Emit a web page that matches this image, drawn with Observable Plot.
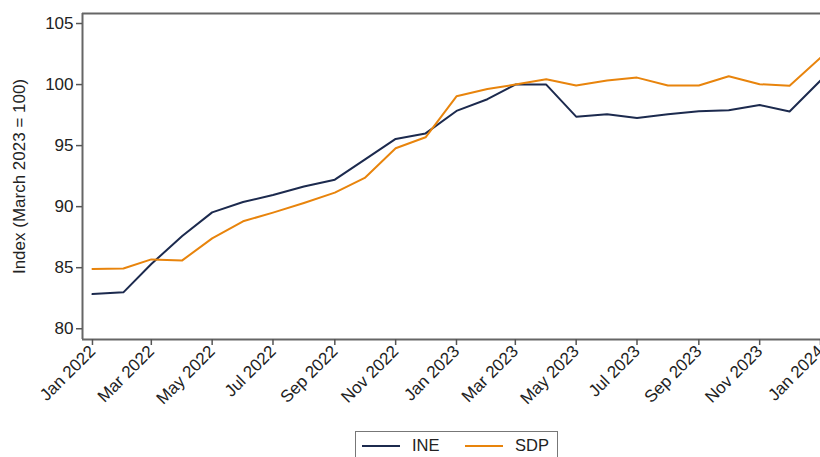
<!DOCTYPE html>
<html>
<head>
<meta charset="utf-8">
<script src="https://cdn.jsdelivr.net/npm/d3@7"></script>
<script src="https://cdn.jsdelivr.net/npm/@observablehq/plot@0.6"></script>
<style>
  body { margin: 0; background: #fff; font-family: "Liberation Sans", Arial, sans-serif; }
  #wrap { position: relative; width: 820px; height: 457px; overflow: hidden; }
  #legend { position: absolute; left: 355px; top: 431px; width: 203px; height: 40px;
    border: 1.5px solid #777; box-sizing: border-box; font-size: 16.5px; color: #222; }
  .item { position: absolute; top: 4px; display: flex; align-items: center; }
  .sw { width: 38px; height: 0; border-top: 2px solid; margin-right: 12px; }
  svg text { font-size: 17px; fill: #222; }
</style>
</head>
<body>
<div id="wrap"><div id="chart"></div>
<div id="legend">
  <div class="item" style="left:6px"><span class="sw" id="sw1"></span><span id="l1"></span></div>
  <div class="item" style="left:109px"><span class="sw" id="sw2"></span><span id="l2"></span></div>
</div>
</div>
<script>
const months = ["2022-01","2022-02","2022-03","2022-04","2022-05","2022-06","2022-07","2022-08","2022-09","2022-10","2022-11","2022-12",
  "2023-01","2023-02","2023-03","2023-04","2023-05","2023-06","2023-07","2023-08","2023-09","2023-10","2023-11","2023-12","2024-01"];
const ine = [82.84, 82.98, 85.3, 87.6, 89.53, 90.38, 90.96, 91.65, 92.21, 93.85, 95.55, 96.0,
  97.84, 98.8, 100.0, 100.0, 97.37, 97.57, 97.27, 97.57, 97.81, 97.89, 98.33, 97.79, 100.33];
const sdp = [84.89, 84.94, 85.68, 85.6, 87.4, 88.8, 89.51, 90.3, 91.15, 92.35, 94.78, 95.68,
  99.04, 99.64, 100.0, 100.44, 99.92, 100.33, 100.57, 99.92, 99.92, 100.68, 100.03, 99.9, 102.19];
const seriesNames = ["INE", "SDP"];
const colors = ["#1c2a4e", "#e8840c"];
const yTicks = [80, 85, 90, 95, 100, 105];
const yLabel = "Index (March 2023 = 100)";

const parse = d3.utcParse("%Y-%m");
const dates = months.map(parse);
const data = [];
seriesNames.forEach((s, i) => {
  const vals = i === 0 ? ine : sdp;
  dates.forEach((d, j) => data.push({date: d, value: vals[j], series: s}));
});
const xStart = new Date(Date.UTC(2021, 11, 22));
const xEnd = dates[dates.length - 1];
const xTicks = d3.utcMonth.every(2).range(dates[0], new Date(xEnd.getTime() + 1));
const yDomain = [79.12, 105.82];

const chart = Plot.plot({
  width: 820,
  height: 425,
  marginLeft: 82,
  marginRight: 0,
  marginTop: 13,
  marginBottom: 86,
  style: {fontFamily: "Liberation Sans, Arial, sans-serif", fontSize: "17px", color: "#222", background: "#fff"},
  x: {type: "utc", domain: [xStart, xEnd], label: null},
  y: {domain: yDomain, label: null},
  color: {domain: seriesNames, range: colors},
  marks: [
    Plot.ruleX([xStart], {stroke: "#666", strokeWidth: 2}),
    Plot.ruleY([yDomain[1]], {stroke: "#666", strokeWidth: 2}),
    Plot.ruleY([yDomain[0]], {stroke: "#666", strokeWidth: 2}),
    Plot.axisY({ticks: yTicks, tickSize: 6, tickPadding: 3, stroke: "#555", strokeWidth: 1.5,
      label: yLabel, labelAnchor: "center", labelOffset: 70}),
    Plot.axisX({ticks: xTicks, tickSize: 6, tickPadding: 3, tickRotate: -45, stroke: "#555", strokeWidth: 1.5,
      tickFormat: d3.utcFormat("%b %Y"), label: null}),
    Plot.line(data, {x: "date", y: "value", z: "series", stroke: "series", strokeWidth: 2, clip: false})
  ]
});
d3.select(chart).selectAll("text").each(function() {
  const t = d3.select(this);
  if (t.text().includes(yLabel)) t.text(yLabel);
});
document.getElementById("chart").appendChild(chart);
document.getElementById("sw1").style.borderColor = colors[0];
document.getElementById("sw2").style.borderColor = colors[1];
document.getElementById("l1").textContent = seriesNames[0];
document.getElementById("l2").textContent = seriesNames[1];
</script>
</body>
</html>
